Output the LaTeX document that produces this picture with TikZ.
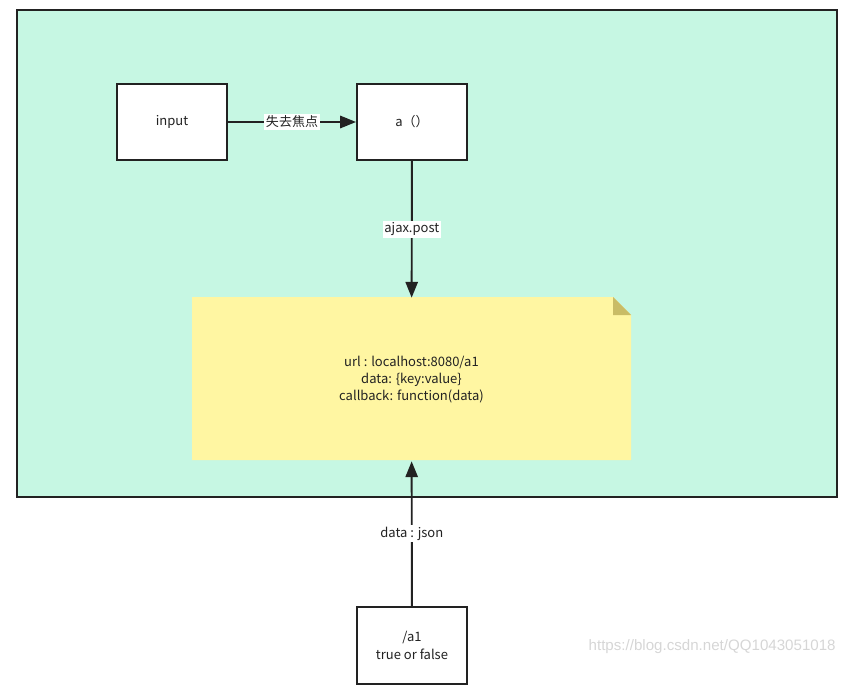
\documentclass[tikz,border=0pt]{standalone}
\usepackage{fontspec}
\setmainfont{Noto Sans CJK SC}
\newfontfamily\markfont{Liberation Sans}
\usetikzlibrary{arrows.meta}
\definecolor{mint}{HTML}{C6F7E3}
\definecolor{notey}{HTML}{FFF6A2}
\definecolor{foldc}{HTML}{C9BC66}
\definecolor{ink}{HTML}{222222}

\begin{document}
\begin{tikzpicture}[x=0.02cm,y=-0.02cm,
    every node/.style={font=\fontsize{7.4}{9.9}\selectfont,text=ink},
    box/.style={draw=ink,line width=1.1pt,fill=white,minimum width=2.2cm,minimum height=1.53cm,inner sep=0pt},
    lbl/.style={fill=white,inner sep=1pt},
    flow/.style={draw=ink,line width=1.1pt,-{Triangle[length=9pt,width=7pt]}}]

    \useasboundingbox (0,0) rectangle (845,693);

    % outer frame
    \node (frame) [draw=ink,line width=1.1pt,fill=mint,minimum width=16.4cm,minimum height=9.74cm,inner sep=0pt] at (427,253.5) {};

    % yellow note with folded corner
    \fill[notey] (192,297) -- (613,297) -- (631,315) -- (631,460) -- (192,460) -- cycle;
    \fill[foldc] (613,297) -- (613,315) -- (631,315) -- cycle;
    \node (note) [minimum width=8.78cm,minimum height=3.26cm,align=center] at (411.5,379.5)
      {url : localhost:8080/a1\\data: \{key:value\}\\callback: function(data)};

    \node (input) [box] at (172,122) {input};
    \node (func) [box] at (412,122) {a（）};
    \node (server) [box,align=center] at (412,645.5) {/a1\\true or false};

    \draw[flow] (input) -- node[lbl] {失去焦点} (func);
    \draw[flow] (func) -- node[lbl] {ajax.post} (note);
    \draw[flow] (server) -- node[lbl] {data : json} (note);

    \node (mark) [anchor=east,text=black!16,font=\markfont\fontsize{8.6}{10}\selectfont,inner sep=0pt] at (836,647) {https://blog.csdn.net/QQ1043051018};
\end{tikzpicture}
\end{document}
